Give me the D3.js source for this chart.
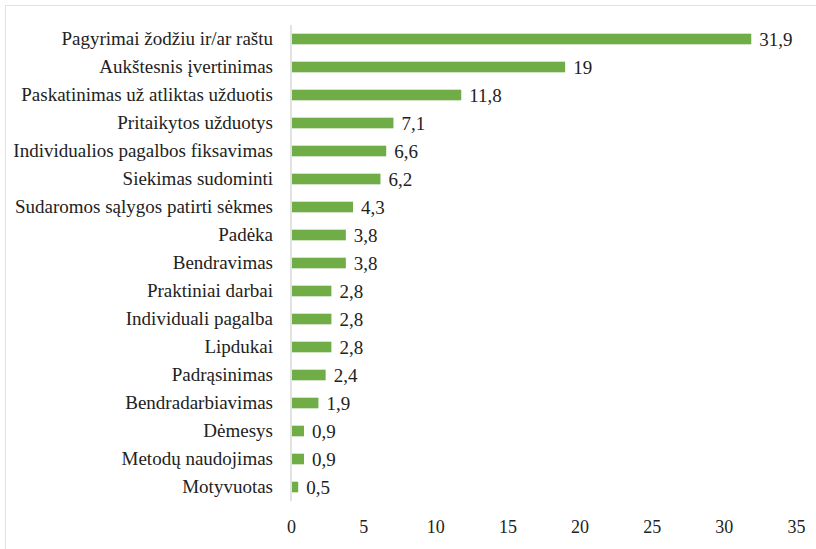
<!DOCTYPE html>
<html>
<head>
<meta charset="utf-8">
<script src="https://cdn.jsdelivr.net/npm/d3@7"></script>
<style>
  body { margin: 0; background: #fff; }
</style>
</head>
<body>
<div id="chart"></div>
<script>
// Categories top to bottom and their values
const categories = [
    'Pagyrimai žodžiu ir/ar raštu',
    'Aukštesnis įvertinimas',
    'Paskatinimas už atliktas užduotis',
    'Pritaikytos užduotys',
    'Individualios pagalbos fiksavimas',
    'Siekimas sudominti',
    'Sudaromos sąlygos patirti sėkmes',
    'Padėka',
    'Bendravimas',
    'Praktiniai darbai',
    'Individuali pagalba',
    'Lipdukai',
    'Padrąsinimas',
    'Bendradarbiavimas',
    'Dėmesys',
    'Metodų naudojimas',
    'Motyvuotas'
];
const values = [31.9, 19, 11.8, 7.1, 6.6, 6.2, 4.3, 3.8, 3.8, 2.8, 2.8, 2.8, 2.4, 1.9, 0.9, 0.9, 0.5];
const xTicks = [0, 5, 10, 15, 20, 25, 30, 35];

const W = 816, H = 549;
const plot = { left: 291, right: 796, top: 25, bottom: 501 };
const serif = "'Liberation Serif', 'Times New Roman', serif";

const svg = d3.select('#chart')
    .append('svg')
    .attr('width', W)
    .attr('height', H)
    .style('font-family', serif);

// thin frame around the picture
svg.append('rect')
    .attr('x', 5.5).attr('y', 5.5)
    .attr('width', W + 10).attr('height', H + 10)
    .attr('fill', 'none')
    .attr('stroke', '#e2e2e2')
    .attr('stroke-width', 1);

const xScale = d3.scaleLinear()
    .domain([0, 35])
    .range([plot.left, plot.right]);

const yScale = d3.scaleBand()
    .domain(categories)
    .range([plot.top, plot.bottom])
    .paddingInner(0.62)
    .paddingOuter(0.31);

// x axis labels only
const xAxis = d3.axisBottom(xScale)
    .tickValues(xTicks)
    .tickSize(0)
    .tickPadding(0)
    .tickFormat(d3.format('d'));

svg.append('g')
    .attr('transform', `translate(0, 520)`)
    .call(xAxis)
    .call(g => g.attr('font-family', serif))
    .call(g => g.select('.domain').remove())
    .call(g => g.selectAll('text')
        .style('font-family', serif)
        .style('font-size', '18px')
        .attr('fill', '#222'));

// y axis with category labels
const yAxis = d3.axisLeft(yScale)
    .tickSize(0)
    .tickPadding(18);

svg.append('g')
    .attr('transform', `translate(${plot.left}, 0)`)
    .call(yAxis)
    .call(g => g.attr('font-family', serif))
    .call(g => g.select('.domain').remove())
    .call(g => g.selectAll('text')
        .style('font-family', serif)
        .style('font-size', '19px')
        .attr('fill', '#222'));

// vertical axis line
svg.append('line')
    .attr('x1', plot.left).attr('x2', plot.left)
    .attr('y1', plot.top).attr('y2', plot.bottom)
    .attr('stroke', '#d9d9d9')
    .attr('stroke-width', 1.5);

// bars
svg.selectAll('.bar')
    .data(values)
    .enter()
    .append('rect')
    .attr('class', 'bar')
    .attr('x', xScale(0) + 1)
    .attr('y', (d, i) => yScale(categories[i]))
    .attr('width', d => xScale(d) - xScale(0) - 1)
    .attr('height', yScale.bandwidth())
    .attr('fill', '#70ad47');

// value labels
svg.selectAll('.val')
    .data(values)
    .enter()
    .append('text')
    .attr('class', 'val')
    .attr('x', d => xScale(d) + 8)
    .attr('y', (d, i) => yScale(categories[i]) + yScale.bandwidth() / 2)
    .attr('dy', '0.35em')
    .style('font-family', serif)
    .style('font-size', '19px')
    .attr('fill', '#222')
    .text(d => String(d).replace('.', ','));
</script>
</body>
</html>
